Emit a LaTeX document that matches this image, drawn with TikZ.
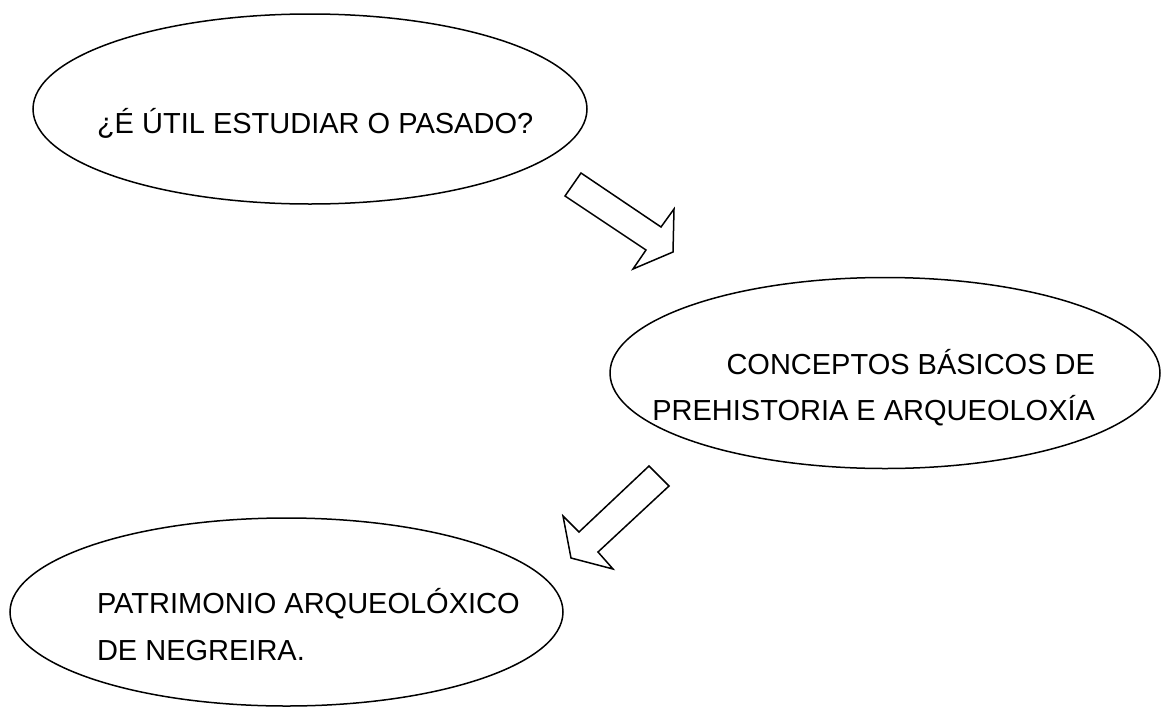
\documentclass[tikz,border=0pt]{standalone}
\usepackage{fontspec}
\setmainfont{Liberation Sans}
\usetikzlibrary{shapes.geometric}
\begin{document}
\begin{tikzpicture}[x=1pt,y=-1pt,
  ell/.style={draw=black, line width=1.5pt, ellipse, inner sep=0pt, outer sep=0pt},
  lbl/.style={inner sep=0pt, outer sep=0pt, font=\fontsize{29}{35}\selectfont},
  blockarrow/.style={draw=black, line width=1.5pt, fill=white, line join=miter}]
\useasboundingbox (0,0) rectangle (1162,707);
% ellipses
\node[ell, minimum width=554pt, minimum height=190pt] (e1) at (310,109) {};
\node[ell, minimum width=550pt, minimum height=191pt] (e2) at (885,373) {};
\node[ell, minimum width=553pt, minimum height=188pt] (e3) at (286.5,612) {};
% texts
\node[lbl, anchor=base west] (t1) at (97,133) {¿É ÚTIL ESTUDIAR O PASADO?};
\node[lbl, anchor=base east] (t2a) at (1095,374) {CONCEPTOS BÁSICOS DE};
\node[lbl, anchor=base east] (t2b) at (1095,420) {PREHISTORIA E ARQUEOLOXÍA};
\node[lbl, anchor=base west] (t3a) at (97,613) {PATRIMONIO ARQUEOLÓXICO};
\node[lbl, anchor=base west] (t3b) at (97,660) {DE NEGREIRA.};
% block arrows
\draw[blockarrow] (581,173) -- (565,196) -- (646,250) -- (633,269) -- (673,252) -- (674,209) -- (661,227) -- cycle;
\draw[blockarrow] (649,466) -- (669,486) -- (598,552) -- (613,569) -- (571,558) -- (563,516) -- (579,532) -- cycle;
\end{tikzpicture}
\end{document}
